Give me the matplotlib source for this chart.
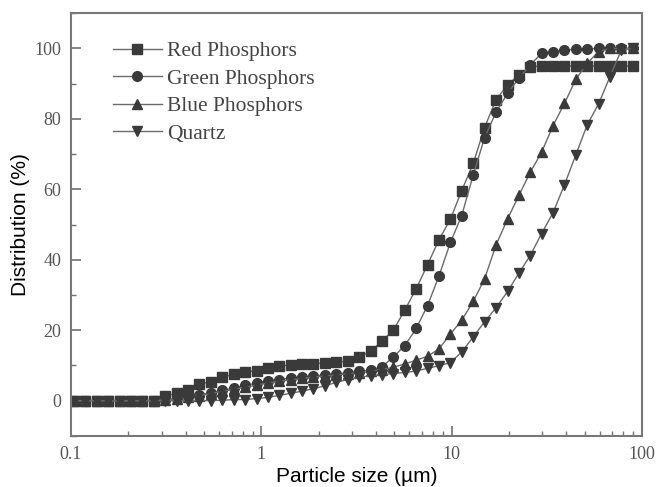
import matplotlib
matplotlib.use("Agg")
import matplotlib.pyplot as plt
from matplotlib.ticker import FixedLocator, LogLocator, NullFormatter, MultipleLocator

# particle size grid (µm)
sizes = [0.104, 0.119, 0.137, 0.157, 0.180, 0.207, 0.237, 0.273, 0.313, 0.359,
         0.412, 0.473, 0.543, 0.624, 0.716, 0.822, 0.944, 1.08, 1.24, 1.43,
         1.64, 1.88, 2.16, 2.48, 2.85, 3.27, 3.75, 4.31, 4.94, 5.68,
         6.52, 7.48, 8.59, 9.86, 11.3, 13.0, 14.9, 17.1, 19.7, 22.6,
         25.9, 29.7, 34.1, 39.2, 45.0, 51.6, 59.3, 68.0, 78.1, 89.7]

red = [0, 0, 0, 0, 0, 0, 0, 0, 1.3, 2.1,
       3.1, 4.7, 5.4, 6.6, 7.5, 8.1, 8.5, 9.3, 9.8, 10.1,
       10.3, 10.5, 10.7, 10.9, 11.2, 12.4, 14.0, 16.9, 20.0, 25.7,
       31.8, 38.6, 45.7, 51.5, 59.6, 67.4, 77.5, 85.4, 89.6, 92.5,
       94.7, 95.0, 95.0, 95.0, 95.0, 95.0, 95.0, 95.0, 95.0, 95.0]

green = [0, 0, 0, 0, 0, 0, 0, 0, 0.3, 0.6,
         1.0, 1.6, 2.2, 2.9, 3.6, 4.3, 5.0, 5.6, 6.0, 6.4,
         6.7, 7.0, 7.3, 7.6, 7.9, 8.3, 8.7, 9.6, 12.4, 15.6,
         20.5, 27.0, 35.4, 44.9, 52.5, 64.1, 74.6, 81.8, 87.3, 91.5,
         95.3, 98.6, 99.1, 99.5, 99.7, 99.9, 100, 100, 100, 100]

blue = [0, 0, 0, 0, 0, 0, 0, 0, 0.2, 0.5,
        0.9, 1.4, 2.0, 2.6, 3.2, 3.8, 4.4, 5.0, 5.5, 5.9,
        6.3, 6.7, 7.0, 7.3, 7.6, 7.9, 8.3, 8.8, 9.5, 10.4,
        11.5, 12.6, 14.7, 18.9, 22.8, 28.2, 34.5, 44.1, 51.6, 58.3,
        64.8, 70.5, 78.0, 84.4, 91.2, 95.8, 99.1, 100, 100, 100]

quartz = [0, 0, 0, 0, 0, 0, 0, 0, 0, 0,
          0, 0, 0, 0.1, 0.3, 0.3, 0.6, 0.9, 1.5, 2.1,
          2.7, 3.4, 4.2, 5.2, 6.0, 6.6, 7.1, 7.4, 7.7, 8.0,
          8.4, 9.2, 9.9, 10.8, 13.8, 18.1, 22.4, 26.3, 31.0, 36.2,
          41.2, 47.4, 53.3, 61.3, 69.8, 78.3, 84.3, 92.0, 99.6, 100]

series = [("Red Phosphors", red, "s"),
          ("Green Phosphors", green, "o"),
          ("Blue Phosphors", blue, "^"),
          ("Quartz", quartz, "v")]

x_ticks = [0.1, 1, 10, 100]
x_tick_labels = ["0.1", "1", "10", "100"]
y_ticks = [0, 20, 40, 60, 80, 100]

fig = plt.figure(figsize=(6.57, 4.87), dpi=100)
ax = fig.add_axes([0.108, 0.105, 0.869, 0.868])

line_c = "#6a6a6a"
mk_c = "#3a3a3a"
for name, vals, mk in series:
    ax.plot(sizes, vals, color=line_c, lw=1.0, marker=mk, markersize=7,
            markerfacecolor=mk_c, markeredgecolor=mk_c, label=name)

ax.set_xscale("log")
ax.set_xlim(0.1, 100)
ax.set_ylim(-10, 110)
ax.xaxis.set_major_locator(FixedLocator(x_ticks))
ax.set_xticklabels(x_tick_labels)
ax.xaxis.set_minor_locator(LogLocator(base=10, subs=range(2, 10)))
ax.xaxis.set_minor_formatter(NullFormatter())
ax.yaxis.set_major_locator(FixedLocator(y_ticks))
ax.yaxis.set_minor_locator(MultipleLocator(10))

tick_c = "#707070"
for sp in ax.spines.values():
    sp.set_color("#777777")
    sp.set_linewidth(1.5)
ax.tick_params(which="major", direction="in", length=7, width=1.2, color=tick_c,
               labelcolor="#555555", labelsize=13, pad=7)
ax.tick_params(which="minor", direction="in", length=3.5, width=1.0, color=tick_c)
for lab in ax.get_xticklabels() + ax.get_yticklabels():
    lab.set_family("Liberation Serif")

ax.set_xlabel("Particle size (µm)", family="Liberation Sans", fontsize=15, labelpad=3)
ax.set_ylabel("Distribution (%)", family="Liberation Sans", fontsize=15, labelpad=3)

leg = ax.legend(loc="upper left", bbox_to_anchor=(0.073, 0.934), frameon=False,
                prop={"family": "Liberation Serif", "size": 15.5},
                handlelength=2.3, handletextpad=0.23, labelspacing=0.35,
                borderpad=0, borderaxespad=0)
for t in leg.get_texts():
    t.set_color("#444444")

fig.savefig("out.png", dpi=100)
